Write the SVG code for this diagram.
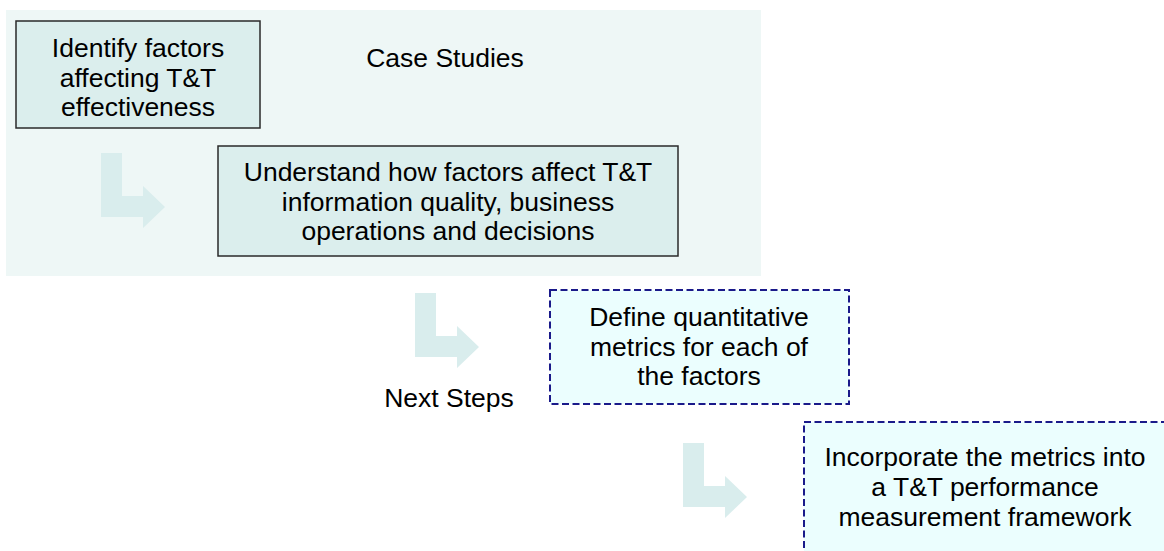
<svg xmlns="http://www.w3.org/2000/svg" width="1164" height="551" viewBox="0 0 1164 551">
  <defs>
    <style>
      .txt { font-family: "Liberation Sans", Arial, sans-serif; font-size: 26.5px; fill: #000000; text-anchor: middle; }
      .solid { fill: #dbeeed; stroke: #2a2a2a; stroke-width: 1.5; }
      .dashed { fill: #ebfefe; stroke: #1a1a8a; stroke-width: 2; stroke-dasharray: 7 3.5; }
      .arrow { fill: #d9eded; stroke: none; }
    </style>
    <path id="bentArrow" d="M0,0 H21 V43 H42 V33 L64,54 L42,75 V64 H0 Z"/>
  </defs>

  <rect x="0" y="0" width="1164" height="551" fill="#ffffff"/>

  <g id="case-studies-panel">
    <rect x="6" y="10" width="755" height="266" fill="#eef7f6"/>
    <text class="txt" x="445" y="67">Case Studies</text>
  </g>

  <g id="connectors">
    <use href="#bentArrow" class="arrow" x="101" y="153"/>
    <use href="#bentArrow" class="arrow" x="415" y="293"/>
    <use href="#bentArrow" class="arrow" x="683" y="443"/>
  </g>

  <g id="node-identify">
    <rect class="solid" x="16" y="21" width="244" height="107"/>
    <text class="txt" x="138" y="57">Identify factors</text>
    <text class="txt" x="138" y="87">affecting T&amp;T</text>
    <text class="txt" x="138" y="116">effectiveness</text>
  </g>

  <g id="node-understand">
    <rect class="solid" x="218" y="146" width="460" height="110"/>
    <text class="txt" x="448" y="181">Understand how factors affect T&amp;T</text>
    <text class="txt" x="448" y="210.5">information quality, business</text>
    <text class="txt" x="448" y="240">operations and decisions</text>
  </g>

  <g id="label-next-steps">
    <text class="txt" x="449" y="407">Next Steps</text>
  </g>

  <g id="node-define">
    <rect class="dashed" x="550" y="290" width="299" height="114"/>
    <text class="txt" x="699" y="326">Define quantitative</text>
    <text class="txt" x="699" y="355.5">metrics for each of</text>
    <text class="txt" x="699" y="385">the factors</text>
  </g>

  <g id="node-incorporate">
    <rect class="dashed" x="804" y="422" width="364" height="140"/>
    <text class="txt" x="985" y="466">Incorporate the metrics into</text>
    <text class="txt" x="985" y="496">a T&amp;T performance</text>
    <text class="txt" x="985" y="526">measurement framework</text>
  </g>
</svg>
